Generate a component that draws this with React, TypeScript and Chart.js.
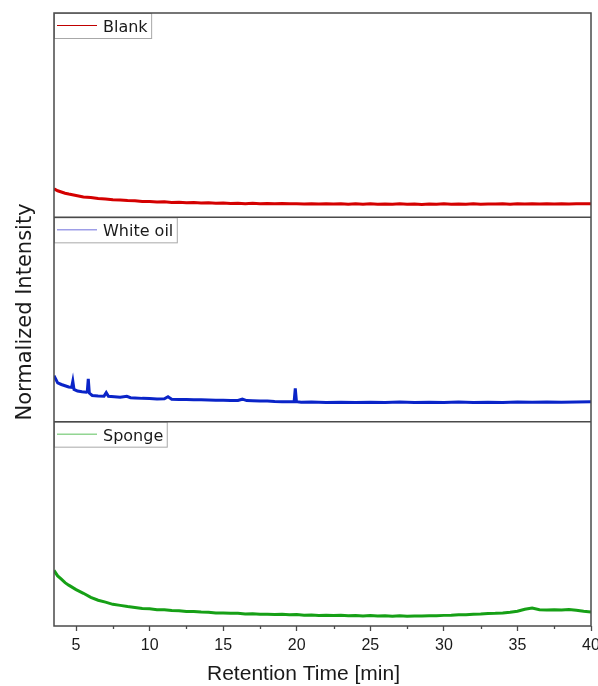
import React, { useEffect, useRef } from "react";
import { Chart, registerables } from "chart.js";

Chart.register(...registerables);

// ---- data (normalized intensity, each trace lives in its own panel 0..1) ----
const gridTime = [
  3.5, 3.75, 4, 4.25, 4.5, 5, 5.5, 6, 6.5, 7, 7.5, 8, 8.5, 9, 9.5, 10,
  10.5, 11, 11.5, 12, 12.5, 13, 13.5, 14, 14.5, 15, 15.5, 16, 16.5, 17, 17.5, 18, 18.5, 19, 19.5, 20,
  20.5, 21, 21.5, 22, 22.5, 23, 23.5, 24, 24.5, 25, 25.5, 26, 26.5, 27, 27.5, 28, 28.5, 29, 29.5, 30,
  30.5, 31, 31.5, 32, 32.5, 33, 33.5, 34, 34.5, 35, 35.5, 36, 36.5, 37, 37.5, 38, 38.5, 39, 39.5, 40,
];

const blankValues = [
  0.140, 0.130, 0.124, 0.118, 0.114, 0.107, 0.100, 0.097, 0.092, 0.090, 0.086, 0.085, 0.082, 0.081, 0.078, 0.078,
  0.075, 0.076, 0.073, 0.074, 0.071, 0.072, 0.070, 0.071, 0.069, 0.070, 0.068, 0.069, 0.067, 0.069, 0.067, 0.068, 0.066, 0.068, 0.066, 0.067,
  0.065, 0.067, 0.065, 0.066, 0.065, 0.067, 0.064, 0.066, 0.064, 0.066, 0.064, 0.065, 0.064, 0.066, 0.064, 0.065, 0.063, 0.065, 0.064, 0.066,
  0.064, 0.065, 0.064, 0.066, 0.064, 0.065, 0.065, 0.066, 0.064, 0.066, 0.065, 0.067, 0.065, 0.066, 0.065, 0.067, 0.065, 0.067, 0.066, 0.067,
];

const spongeValues = [
  0.272, 0.245, 0.229, 0.212, 0.200, 0.178, 0.160, 0.140, 0.126, 0.117, 0.106, 0.101, 0.095, 0.091, 0.086, 0.084,
  0.080, 0.080, 0.076, 0.075, 0.071, 0.071, 0.068, 0.067, 0.064, 0.064, 0.062, 0.062, 0.059, 0.060, 0.058, 0.058, 0.056, 0.057, 0.055, 0.056,
  0.053, 0.054, 0.052, 0.053, 0.051, 0.052, 0.050, 0.051, 0.049, 0.051, 0.049, 0.050, 0.048, 0.050, 0.048, 0.049, 0.049, 0.050, 0.050, 0.052,
  0.053, 0.055, 0.055, 0.058, 0.059, 0.061, 0.062, 0.064, 0.067, 0.072, 0.082, 0.088, 0.080, 0.078, 0.079, 0.078, 0.081, 0.077, 0.072, 0.068,
];

const whiteOilTime = [
  3.5, 3.75, 4, 4.25, 4.5, 4.7, 4.78, 4.86, 5.1, 5.4, 5.7, 5.76, 5.83, 5.9, 6.1, 6.5, 6.9, 7.05, 7.2, 7.6,
  8, 8.45, 8.7, 9, 9.5, 10, 10.5, 11, 11.25, 11.5, 12, 12.5, 13, 13.5, 14, 14.5, 15, 15.5, 16, 16.3,
  16.6, 17, 17.5, 18, 18.5, 19, 19.5, 19.82, 19.9, 19.98, 20.3, 21, 22, 23, 24, 25, 26, 27, 28, 29,
  30, 31, 32, 33, 34, 35, 36, 37, 38, 39, 40,
];

const whiteOilValues = [
  0.225, 0.190, 0.182, 0.176, 0.170, 0.168, 0.198, 0.158, 0.150, 0.146, 0.144, 0.146, 0.209, 0.140, 0.128, 0.126, 0.125, 0.142, 0.124, 0.122,
  0.119, 0.124, 0.117, 0.116, 0.114, 0.113, 0.111, 0.112, 0.122, 0.110, 0.109, 0.108, 0.107, 0.107, 0.106, 0.105, 0.105, 0.104, 0.104, 0.110,
  0.103, 0.102, 0.101, 0.101, 0.099, 0.098, 0.097, 0.097, 0.163, 0.098, 0.095, 0.096, 0.094, 0.095, 0.094, 0.095, 0.094, 0.096, 0.094, 0.095,
  0.094, 0.096, 0.094, 0.095, 0.094, 0.096, 0.095, 0.096, 0.095, 0.096, 0.097,
];

const seriesNames = ["Blank", "White oil", "Sponge"];
const seriesColors = ["#d40000", "#0a24c8", "#16a016"];
const legendLineColors = ["#c00000", "#6f6fdc", "#5cc05c"];
const panelOffsets = [2, 1, 0];

const xMajorTicks = [5, 10, 15, 20, 25, 30, 35, 40];
const xMinorTicks = [7.5, 12.5, 17.5, 22.5, 27.5, 32.5, 37.5];
const xMin = 3.5;
const xMax = 40;

const xTitle = "Retention Time [min]";
const yTitle = "Normalized Intensity";

const FRAME = "#4a4a4a";

function drawFrame(chart: any) {
  const { ctx, chartArea } = chart;
  const ys = chart.scales.y;
  ctx.strokeStyle = FRAME;
  ctx.lineWidth = 1.5;
  ctx.strokeRect(chartArea.left, chartArea.top, chartArea.right - chartArea.left, chartArea.bottom - chartArea.top);
  [1, 2].forEach((v) => {
    const py = ys.getPixelForValue(v);
    ctx.beginPath();
    ctx.moveTo(chartArea.left, py);
    ctx.lineTo(chartArea.right, py);
    ctx.stroke();
  });
}

const decorPlugin = {
  id: "decor",
  afterDraw(chart: any) {
    const { ctx, chartArea } = chart;
    const xs = chart.scales.x;
    const ys = chart.scales.y;
    ctx.save();
    // minor ticks
    ctx.strokeStyle = FRAME;
    ctx.lineWidth = 1.3;
    xMinorTicks.forEach((v) => {
      const px = Math.round(xs.getPixelForValue(v)) + 0.5;
      ctx.beginPath();
      ctx.moveTo(px, chartArea.bottom);
      ctx.lineTo(px, chartArea.bottom + 3);
      ctx.stroke();
    });
    // legends
    ctx.font = '16px "DejaVu Sans"';
    ctx.textBaseline = "alphabetic";
    ctx.textAlign = "left";
    seriesNames.forEach((name, i) => {
      const top = ys.getPixelForValue(panelOffsets[i] + 1);
      const left = chartArea.left;
      const tw = ctx.measureText(name).width;
      const w = 49 + tw + 3.5;
      const h = 25;
      ctx.fillStyle = "#ffffff";
      ctx.fillRect(left + 1, top + 1, w - 1, h - 1);
      ctx.strokeStyle = "#a8a8a8";
      ctx.lineWidth = 1;
      ctx.strokeRect(left + 0.5, top + 0.5, w, h);
      ctx.strokeStyle = legendLineColors[i];
      ctx.lineWidth = 1;
      ctx.beginPath();
      ctx.moveTo(left + 3, top + 12.5);
      ctx.lineTo(left + 43, top + 12.5);
      ctx.stroke();
      ctx.fillStyle = "#1a1a1a";
      ctx.fillText(name, left + 49, top + 19);
    });
    // frame + panel separators on top
    drawFrame(chart);
    // axis titles
    ctx.fillStyle = "#1a1a1a";
    ctx.font = '21px "Liberation Sans", Arial, sans-serif';
    ctx.textAlign = "center";
    ctx.fillText(xTitle, 303.5, 680);
    ctx.save();
    ctx.translate(30.5, 312);
    ctx.rotate(-Math.PI / 2);
    ctx.font = '21px "DejaVu Sans"';
    ctx.fillText(yTitle, 0, 0);
    ctx.restore();
    ctx.restore();
  },
};

export default function App() {
  const ref = useRef<HTMLCanvasElement | null>(null);
  useEffect(() => {
    if (!ref.current) return;
    const build = (time: number[], vals: number[], off: number) =>
      time.map((t, k) => ({ x: t, y: vals[k] + off }));
    const chart = new Chart(ref.current, {
      type: "line",
      data: {
        datasets: [
          { label: seriesNames[0], data: build(gridTime, blankValues, panelOffsets[0]), borderColor: seriesColors[0], borderWidth: 3, pointRadius: 0, tension: 0 },
          { label: seriesNames[1], data: build(whiteOilTime, whiteOilValues, panelOffsets[1]), borderColor: seriesColors[1], borderWidth: 3, pointRadius: 0, tension: 0 },
          { label: seriesNames[2], data: build(gridTime, spongeValues, panelOffsets[2]), borderColor: seriesColors[2], borderWidth: 3, pointRadius: 0, tension: 0 },
        ],
      },
      options: {
        animation: false,
        responsive: false,
        devicePixelRatio: 1,
        layout: { padding: { left: 54, top: 13, right: 7, bottom: 0 } },
        plugins: { legend: { display: false }, tooltip: { enabled: false } },
        scales: {
          x: {
            type: "linear",
            min: xMin,
            max: xMax,
            afterBuildTicks: (s: any) => {
              s.ticks = xMajorTicks.map((v) => ({ value: v }));
            },
            afterFit: (s: any) => {
              s.height = 60;
              s.paddingLeft = 0;
              s.paddingRight = 0;
            },
            grid: { drawOnChartArea: false, drawTicks: true, tickLength: 5, tickColor: FRAME, tickWidth: 1.3 },
            border: { display: false },
            ticks: {
              padding: 5,
              color: "#1a1a1a",
              font: { family: '"Liberation Sans", Arial, sans-serif', size: 16 },
              maxRotation: 0,
              autoSkip: false,
            },
          },
          y: { type: "linear", min: 0, max: 3, display: false },
        },
      },
      plugins: [decorPlugin],
    } as any);
    return () => chart.destroy();
  }, []);
  return (
    <div style={{ position: "fixed", left: 0, top: 0, width: 598, height: 686, overflow: "hidden", background: "#fff" }}>
      <canvas ref={ref} width={598} height={686} style={{ display: "block" }} />
    </div>
  );
}
